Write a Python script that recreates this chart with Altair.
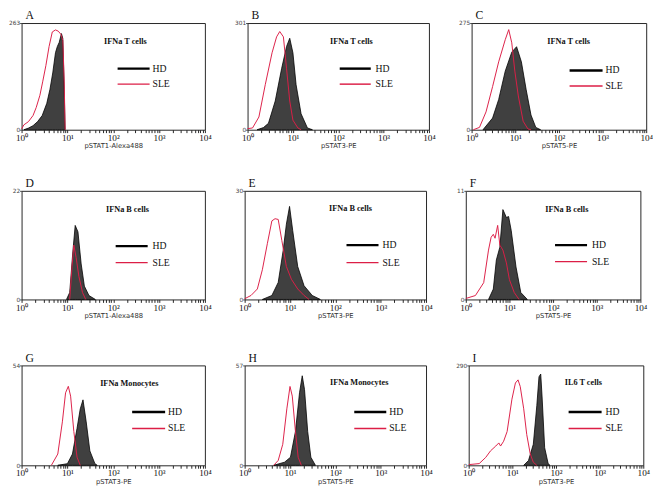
import altair as alt
import pandas as pd

SERIES = ["HD", "SLE"]
HD_FILL = "#404040"
SLE_RED = "#dc1e46"

# ---- values (x in decades, y in counts) ----
A_HD_LOG = [0.05, 0.15, 0.25, 0.35, 0.45, 0.55, 0.62, 0.68, 0.74, 0.78, 0.82, 0.87, 0.90, 0.93, 0.95]
A_HD_CNT = [0, 4, 10, 20, 35, 65, 100, 140, 190, 205, 215, 237, 225, 100, 0]
A_SLE_LOG = [0.0, 0.05, 0.15, 0.25, 0.32, 0.40, 0.46, 0.53, 0.60, 0.67, 0.74, 0.80, 0.86, 0.90, 0.93, 0.95]
A_SLE_CNT = [2, 12, 20, 35, 55, 85, 118, 158, 205, 241, 246, 243, 235, 220, 120, 0]

B_HD_LOG = [0.21, 0.35, 0.46, 0.61, 0.75, 0.86, 0.93, 1.0, 1.07, 1.18, 1.32, 1.43]
B_HD_CNT = [0, 6, 18, 81, 172, 235, 258, 217, 127, 45, 5, 0]
B_SLE_LOG = [0.0, 0.11, 0.25, 0.39, 0.54, 0.64, 0.71, 0.79, 0.86, 0.93, 1.0, 1.11, 1.18]
B_SLE_CNT = [3, 5, 36, 127, 217, 262, 277, 262, 172, 81, 27, 5, 0]

C_HD_LOG = [0.26, 0.48, 0.62, 0.77, 0.92, 1.03, 1.14, 1.25, 1.36, 1.47, 1.58]
C_HD_CNT = [0, 30, 78, 151, 200, 214, 175, 103, 38, 6, 0]
C_SLE_LOG = [0.04, 0.18, 0.33, 0.48, 0.62, 0.77, 0.85, 0.92, 0.99, 1.07, 1.18, 1.29, 1.36]
C_SLE_CNT = [0, 6, 46, 111, 175, 232, 258, 224, 151, 87, 22, 2, 0]

D_HD_LOG = [0.98, 1.05, 1.12, 1.17, 1.23, 1.30, 1.37, 1.47, 1.61]
D_HD_CNT = [0, 1.4, 9.8, 15.0, 13.7, 7.2, 2.7, 0.8, 0]
D_SLE_LOG = [1.05, 1.10, 1.14, 1.19, 1.25, 1.33, 1.40]
D_SLE_CNT = [0, 6.6, 11.0, 8.5, 4.7, 1.4, 0]

E_HD_LOG = [0.39, 0.60, 0.74, 0.85, 0.92, 0.99, 1.06, 1.17, 1.31, 1.49, 1.67]
E_HD_CNT = [0, 1.1, 4.7, 13.6, 20.8, 25.7, 19.0, 9.1, 3.8, 1.1, 0]
E_SLE_LOG = [0.0, 0.14, 0.28, 0.39, 0.50, 0.60, 0.67, 0.74, 0.82, 0.92, 1.03, 1.17, 1.31, 1.42]
E_SLE_CNT = [0.2, 1.1, 2.9, 8.2, 15.4, 21.7, 22.3, 22.1, 16.3, 9.1, 5.6, 2.9, 1.1, 0]

F_HD_LOG = [0.52, 0.63, 0.70, 0.78, 0.85, 0.93, 0.98, 1.04, 1.15, 1.26, 1.41]
F_HD_CNT = [0, 1.05, 4.0, 5.3, 9.1, 8.3, 8.4, 7.0, 3.3, 0.7, 0]
F_SLE_LOG = [0.0, 0.22, 0.41, 0.52, 0.58, 0.63, 0.67, 0.73, 0.78, 0.85, 0.93, 1.0, 1.11, 1.22]
F_SLE_CNT = [0.1, 0.4, 1.7, 5.0, 6.3, 6.6, 6.2, 7.5, 5.5, 5.0, 3.7, 2.0, 0.7, 0]

G_HD_LOG = [0.79, 1.0, 1.11, 1.21, 1.28, 1.34, 1.41, 1.49, 1.60, 1.65]
G_HD_CNT = [0, 0.9, 6.1, 20.0, 30.5, 35.4, 23.5, 7.8, 0.9, 0]
G_SLE_LOG = [0.65, 0.79, 0.89, 0.96, 1.02, 1.07, 1.14, 1.21, 1.28]
G_SLE_CNT = [0, 6.1, 23.5, 39.2, 42.7, 37.4, 18.3, 4.4, 0]

H_HD_LOG = [0.64, 0.88, 1.01, 1.12, 1.21, 1.27, 1.32, 1.39, 1.46, 1.56]
H_HD_CNT = [0, 1.8, 4.6, 19.3, 41.4, 51.1, 43.2, 19.3, 4.6, 0]
H_SLE_LOG = [0.64, 0.74, 0.84, 0.93, 1.0, 1.05, 1.12, 1.18, 1.25]
H_SLE_CNT = [0, 2.8, 12.0, 32.2, 45.0, 39.5, 19.3, 4.6, 0]

I_HD_LOG = [1.26, 1.37, 1.48, 1.56, 1.61, 1.65, 1.68, 1.74, 1.82, 1.86]
I_HD_CNT = [0, 14, 61, 173, 257, 265, 201, 51, 5, 0]
I_SLE_LOG = [0.0, 0.24, 0.39, 0.50, 0.62, 0.69, 0.73, 0.80, 0.88, 0.99, 1.07, 1.13, 1.18, 1.26, 1.33, 1.41, 1.48, 1.56]
I_SLE_CNT = [2, 5, 23, 42, 56, 65, 56, 70, 98, 192, 239, 248, 229, 164, 89, 33, 9, 0]

Y_MAX = [263, 301, 275, 22, 30, 11, 54, 57, 290]
LETTERS = ["A", "B", "C", "D", "E", "F", "G", "H", "I"]
X_TITLES = ["pSTAT1-Alexa488", "pSTAT3-PE", "pSTAT5-PE",
            "pSTAT1-Alexa488", "pSTAT3-PE", "pSTAT5-PE",
            "pSTAT3-PE", "pSTAT5-PE", "pSTAT3-PE"]
LABELS = ["IFNa T cells", "IFNa T cells", "IFNa T cells",
          "IFNa B cells", "IFNa B cells", "IFNa B cells",
          "IFNa Monocytes", "IFNa Monocytes", "IL6  T cells"]
DECADE_LABELS = ["10⁰", "10¹", "10²", "10³", "10⁴"]

CURVES = [
    (A_HD_LOG, A_HD_CNT, A_SLE_LOG, A_SLE_CNT),
    (B_HD_LOG, B_HD_CNT, B_SLE_LOG, B_SLE_CNT),
    (C_HD_LOG, C_HD_CNT, C_SLE_LOG, C_SLE_CNT),
    (D_HD_LOG, D_HD_CNT, D_SLE_LOG, D_SLE_CNT),
    (E_HD_LOG, E_HD_CNT, E_SLE_LOG, E_SLE_CNT),
    (F_HD_LOG, F_HD_CNT, F_SLE_LOG, F_SLE_CNT),
    (G_HD_LOG, G_HD_CNT, G_SLE_LOG, G_SLE_CNT),
    (H_HD_LOG, H_HD_CNT, H_SLE_LOG, H_SLE_CNT),
    (I_HD_LOG, I_HD_CNT, I_SLE_LOG, I_SLE_CNT),
]

# layout (pixels inside each plot area)
WIDTHS = [189, 187, 180]
HEIGHTS = [110, 112, 103]
# label x, label y, rule x0, rule x1, HD row y, SLE row y, legend text x
POS = [
    (85, 19, 99, 132, 47, 63, 135),
    (85, 19, 95, 127, 47, 63, 132),
    (78, 19, 101, 135, 49, 65, 138),
    (87, 19, 97, 130, 57, 74, 135),
    (87, 18, 105, 138, 56, 74, 142),
    (82, 19, 92, 125, 56, 73, 130),
    (81, 18, 114, 148, 48, 65, 151),
    (88, 17, 113, 146, 48, 65, 149),
    (99, 17, 103, 137, 48, 65, 141),
]

tick_values = []
for d in range(4):
    for m in range(1, 10):
        tick_values.append(m * 10 ** d)
tick_values.append(10 ** 4)

label_expr = ("datum.value == 1 ? '%s' : datum.value == 10 ? '%s' : datum.value == 100 ? '%s' : "
              "datum.value == 1000 ? '%s' : datum.value == 10000 ? '%s' : ''") % tuple(DECADE_LABELS)

SERIF = "Liberation Serif"
SANS = "DejaVu Sans"


def panel(i):
    hd_log, hd_cnt, sle_log, sle_cnt = CURVES[i]
    w = WIDTHS[i % 3]
    h = HEIGHTS[i // 3]
    tx, ty, r0, r1, yhd, ysle, lx = POS[i]
    ymax = Y_MAX[i]
    hd = pd.DataFrame({"x": [10 ** v for v in hd_log], "y": hd_cnt, "series": SERIES[0]})
    sle = pd.DataFrame({"x": [10 ** v for v in sle_log], "y": sle_cnt, "series": SERIES[1]})

    X = alt.X("x:Q", scale=alt.Scale(type="log", domain=[1, 10000], nice=False),
              axis=alt.Axis(values=tick_values, labelExpr=label_expr, title=X_TITLES[i],
                            labelFont=SERIF, labelFontSize=9.5, labelColor="#111",
                            labelFlush=False, labelOverlap=False, labelPadding=0,
                            tickSize=3, tickColor="#222", domain=False, grid=False,
                            titleFont=SANS, titleFontSize=7, titleFontWeight="normal",
                            titleColor="#333", titlePadding=0))
    Y = alt.Y("y:Q", scale=alt.Scale(domain=[0, ymax], nice=False),
              axis=alt.Axis(values=[0, ymax], title=None, labelFont=SANS, labelFontSize=6,
                            labelColor="#444", tickSize=2, tickColor="#444", labelPadding=0,
                            domain=False, grid=False))

    area = alt.Chart(hd).mark_area(fill=HD_FILL, stroke="black", strokeWidth=0.8).encode(x=X, y=Y)
    line = alt.Chart(sle).mark_line(color=SLE_RED, strokeWidth=1).encode(x=X, y=Y)

    one = pd.DataFrame({"k": [0]})
    lab = alt.Chart(one).mark_text(align="left", baseline="middle", font=SERIF, fontSize=8.5,
                                   fontWeight="bold", color="#111").encode(
        x=alt.value(tx), y=alt.value(ty), text=alt.value(LABELS[i]))
    rule_hd = alt.Chart(one).mark_rule(color="black", strokeWidth=2.5).encode(
        x=alt.value(r0), x2=alt.value(r1), y=alt.value(yhd))
    rule_sle = alt.Chart(one).mark_rule(color=SLE_RED, strokeWidth=1.5).encode(
        x=alt.value(r0), x2=alt.value(r1), y=alt.value(ysle))
    txt_hd = alt.Chart(one).mark_text(align="left", baseline="middle", font=SERIF, fontSize=10,
                                      color="#111").encode(
        x=alt.value(lx), y=alt.value(yhd), text=alt.value(SERIES[0]))
    txt_sle = alt.Chart(one).mark_text(align="left", baseline="middle", font=SERIF, fontSize=10,
                                       color="#111").encode(
        x=alt.value(lx), y=alt.value(ysle), text=alt.value(SERIES[1]))

    return alt.layer(area, line, lab, rule_hd, rule_sle, txt_hd, txt_sle).properties(
        width=w, height=h,
        title=alt.TitleParams(LETTERS[i], anchor="start", frame="group", font=SERIF,
                              fontSize=12, fontWeight="normal", color="#111", offset=-2, dx=4))


rows = [alt.hconcat(*[panel(r * 3 + c) for c in range(3)], spacing=23) for r in range(3)]
lower = alt.vconcat(rows[1], rows[2], spacing=33)
chart = alt.vconcat(rows[0], lower, spacing=28,
                    padding={"left": 0, "top": -7, "right": 0, "bottom": 0},
                    background="white").configure_view(stroke="#222", strokeWidth=1)

chart.save("out.html", embed_options={"renderer": "svg", "actions": False})
